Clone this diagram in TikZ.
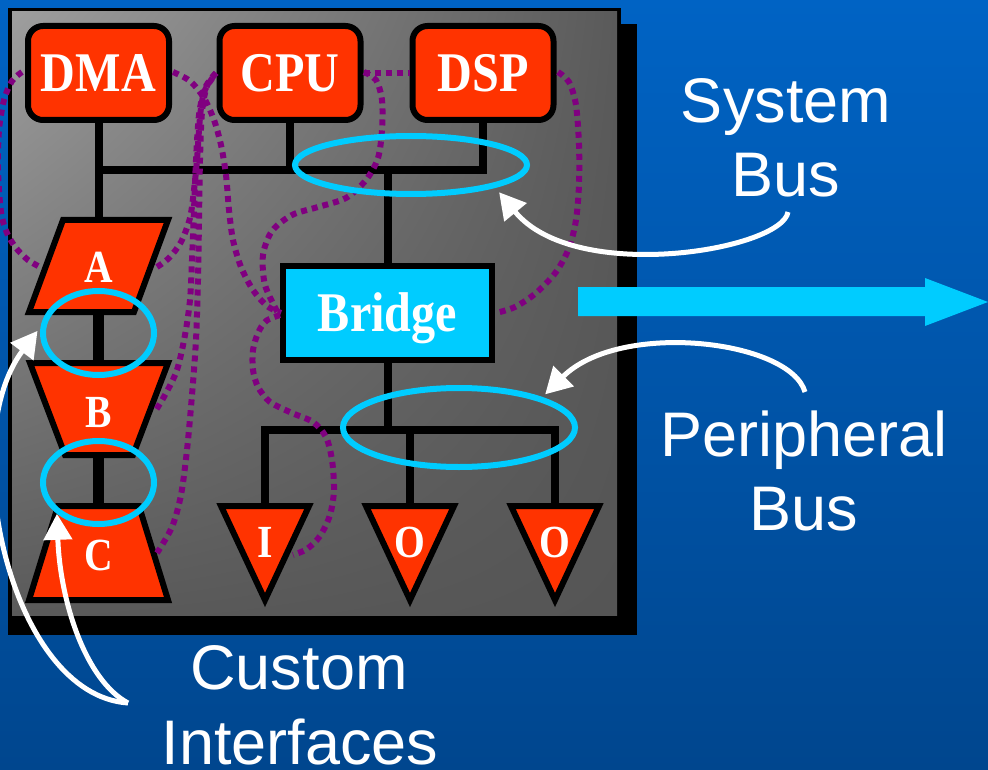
\documentclass[tikz,border=0pt]{standalone}
\usepackage{fontspec}
\setmainfont{Liberation Serif}
\newfontfamily\labelsans{Liberation Sans}
\usetikzlibrary{shapes.geometric,arrows.meta,shadings}
\definecolor{bgtop}{HTML}{0063C4}
\definecolor{bgbot}{HTML}{00468E}
\definecolor{chipred}{HTML}{FF3300}
\definecolor{buscyan}{HTML}{00CCFF}
\definecolor{dotpurple}{HTML}{800080}
\definecolor{pUL}{HTML}{9E9E9E}
\definecolor{pUR}{HTML}{5A5A5A}
\definecolor{pLL}{HTML}{5A5A5A}
\definecolor{pLR}{HTML}{555555}
\newcommand\chipfont{\fontsize{56pt}{56pt}\selectfont\bfseries}
\newcommand\letterfont{\fontsize{46pt}{46pt}\selectfont\bfseries}
\newcommand\calloutfont{\labelsans\fontsize{63pt}{63pt}\selectfont}
\newcommand\narrow[1]{\scalebox{0.86}[1]{#1}}
\begin{document}
\begin{tikzpicture}[x=1pt,y=-1pt,
  chipbox/.style={draw=black, line width=6pt, fill=chipred, rounded corners=15pt,
    minimum width=141pt, minimum height=94pt, inner sep=0pt, text=white,
    font=\chipfont, text height=37pt, text depth=0pt},
  bridgebox/.style={draw=black, line width=6pt, fill=buscyan,
    minimum width=209pt, minimum height=94pt, inner sep=0pt, text=white,
    font=\chipfont, text height=37pt, text depth=0pt},
  chipshape/.style={draw=black, line width=6pt, fill=chipred, line join=miter},
  letter/.style={text=white, font=\letterfont, inner sep=0pt, text height=30pt, text depth=0pt},
  wire/.style={draw=black, line width=8pt},
  thickwire/.style={draw=black, line width=11pt},
  ring/.style={ellipse, draw=buscyan, line width=6pt, inner sep=0pt},
  cluster/.style={draw=dotpurple, line width=6pt, dash pattern=on 6pt off 5pt},
  callout/.style={text=white, font=\calloutfont, inner sep=0pt, anchor=base},
  pointer/.style={draw=white, line width=5pt, -{Triangle[length=26pt,width=28pt]}}
]
\useasboundingbox (0,0) rectangle (988,770);
% background
\shade[top color=bgtop, bottom color=bgbot] (0,0) rectangle (988,770);
% panel with shadow
\fill[black] (8,24) rectangle (637,635);
\fill[black] (8,8) rectangle (621,619);
\shade[upper left=pUL, upper right=pUR, lower left=pLL, lower right=pLR] (12,12) rectangle (617,615);

% coordinates
\coordinate (busL) at (98.5,170);
\coordinate (atop) at (98.5,220);
\coordinate (abot) at (98.5,312);
\coordinate (btop) at (98.5,363);
\coordinate (bbot) at (98.5,455);
\coordinate (ctop) at (98.5,506);
\coordinate (pb) at (387.5,430);
\coordinate (itop) at (265,506);
\coordinate (o1top) at (410,506);
\coordinate (o2top) at (555,506);

% units
\node[chipbox] (dma) at (98.5,73) {\narrow{DMA}};
\node[chipbox] (cpu) at (290,73) {\narrow{CPU}};
\node[chipbox] (dsp) at (483,73) {\narrow{DSP}};
\node[bridgebox] (bridge) at (387.5,313) {\narrow{Bridge}};

% system bus wires
\draw[wire] (dma.south) -- (atop);
\draw[wire] (dsp.south) |- (busL);
\draw[wire] (cpu.south) -- (cpu.south |- busL);
\draw[wire] (bridge.north) -- (bridge.north |- busL);
% custom interface stems
\draw[thickwire] (abot) -- (btop);
\draw[thickwire] (bbot) -- (ctop);
% peripheral bus wires
\draw[wire] (bridge.south) -- (pb);
\draw[wire] (itop) -- (itop |- pb) -- (o2top |- pb) -- (o2top);
\draw[wire] (o1top) -- (o1top |- pb);

% custom blocks
\filldraw[chipshape] (63,220) -- (168,220) -- (134,312) -- (29,312) -- cycle;
\filldraw[chipshape] (30,363) -- (168,363) -- (133,455) -- (65,455) -- cycle;
\filldraw[chipshape] (58,506) -- (139,506) -- (168,600) -- (29,600) -- cycle;
\node[letter] (la) at (98.5,268) {\narrow{A}};
\node[letter] (lb) at (98.5,412) {\narrow{B}};
\node[letter] (lc) at (98.5,555) {\narrow{C}};

% peripherals
\filldraw[chipshape] (221,506) -- (309,506) -- (265,600) -- cycle;
\filldraw[chipshape] (366,506) -- (454,506) -- (410,600) -- cycle;
\filldraw[chipshape] (511,506) -- (599,506) -- (555,600) -- cycle;
\node[letter] (li) at (265,542) {\narrow{I}};
\node[letter] (lo1) at (410,542) {\narrow{O}};
\node[letter] (lo2) at (555,542) {\narrow{O}};

% dotted clusters
\draw[cluster] plot[smooth] coordinates {(22,72) (12,81) (4,100) (-1,130) (-2,170) (1,212) (7,233) (16,248) (28,260) (40,267)};
\draw[cluster] plot[smooth] coordinates {(157,267) (169,258) (181,242) (190,218) (194,190) (197,160) (199,130) (201,108) (205,90) (216,73)};
\draw[cluster] plot[smooth] coordinates {(173,72) (190,81) (204,98) (214,120) (221,145) (226,175) (229,210) (233,240) (241,267) (253,290) (267,306) (281,313)};
\draw[cluster] plot[smooth] coordinates {(216,73) (205,88) (199,115) (196,160) (194,210) (192,260) (190,300) (185,335) (177,370) (165,395) (156,410)};
\draw[cluster] plot[smooth] coordinates {(216,73) (207,86) (202,112) (200,160) (199,220) (198,280) (196,340) (192,395) (187,450) (181,495) (172,527) (157,553)};
\draw[cluster] plot[smooth] coordinates {(364,72) (376,80) (382,100) (382,130) (378,158) (366,180) (346,198) (318,207) (292,215) (272,231) (263,255) (265,285) (278,313)};
\draw[cluster] (cpu.east) -- (dsp.west);
\draw[cluster] plot[smooth] coordinates {(280,315) (266,321) (258,333) (253,350) (253,370) (258,387) (270,402) (292,413) (313,422) (326,437) (332,460) (334,490) (330,515) (320,536) (307,549) (293,555)};
\draw[cluster] plot[smooth] coordinates {(558,72) (569,82) (576,105) (579,145) (579,185) (576,220) (569,248) (556,272) (536,293) (515,307) (496,313)};

% rings
\node[ring, minimum width=232pt, minimum height=58pt] (sysring) at (411,165) {};
\node[ring, minimum width=232pt, minimum height=79pt] (pring) at (459,427.5) {};
\node[ring, minimum width=111pt, minimum height=84pt] (abring) at (98.5,333) {};
\node[ring, minimum width=111pt, minimum height=83pt] (bcring) at (98.5,482.5) {};

% big arrow
\fill[buscyan] (578,287) -- (925,287) -- (925,278) -- (988,302) -- (925,326) -- (925,316) -- (578,316) -- cycle;

% callout labels
\node[callout] (sys1) at (786,123) {System};
\node[callout] (sys2) at (786,197) {Bus};
\node[callout] (per1) at (804,456) {Peripheral};
\node[callout] (per2) at (804,530) {Bus};
\node[callout] (cus1) at (299,689) {Custom};
\node[callout] (cus2) at (300,764) {Interfaces};

\coordinate (sysfrom) at (788,212);
\coordinate (perfrom) at (805,392);
\coordinate (cusfrom) at (128,703);

\draw[pointer, shorten >=6pt] (sysfrom) .. controls (782,250) and (575,285) .. (sysring.-15);
\draw[pointer, shorten >=4pt] (perfrom) .. controls (790,340) and (620,320) .. (pring.20);
\draw[pointer, shorten >=5pt] (cusfrom) .. controls (10,695) and (-45,440) .. (abring.174);
\draw[pointer] (cusfrom) .. controls (85,680) and (60,600) .. (bcring.217);
\end{tikzpicture}
\end{document}
